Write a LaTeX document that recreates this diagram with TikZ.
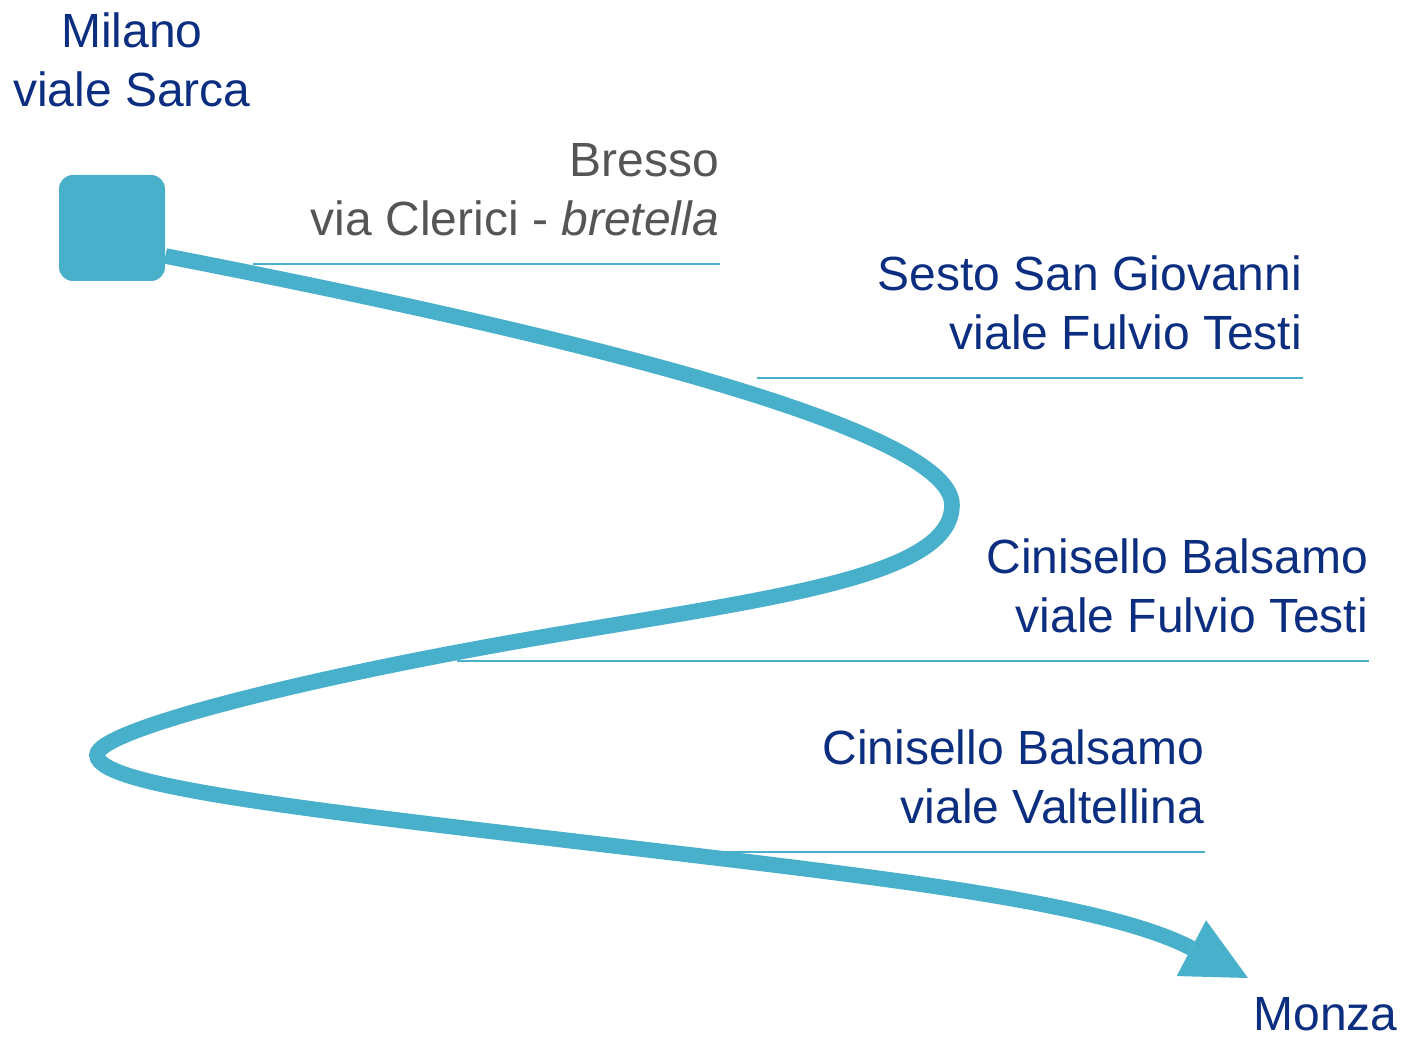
\documentclass[tikz,border=0pt]{standalone}
\usepackage{fontspec}
\setmainfont{Liberation Sans}
\usetikzlibrary{arrows.meta}
\definecolor{linea}{RGB}{73,176,203}
\definecolor{blu}{RGB}{12,46,128}
\definecolor{grigio}{RGB}{85,85,85}
\tikzset{>={Triangle[length=32pt,width=31.5pt,line width=0pt]}}

\begin{document}
\begin{tikzpicture}[x=0.5pt, y=-0.5pt,
    testo/.style={text=blu, font=\fontsize{24}{29.5}\selectfont, align=right, inner sep=0pt, anchor=south east},
    tratto/.style={linea, line width=1pt},
    percorso/.style={linea, line width=7.8pt}]
    \useasboundingbox (0,0) rectangle (1405,1037);
    \node[fill=linea, rounded corners=7pt, minimum size=53pt, inner sep=0pt] (sarca) at (112,228) {};
    \node[testo, align=center, anchor=south] (milano) at (132,107) {Milano\\viale Sarca};
    \node[testo, anchor=south east] (monza) at (1398,1031) {Monza};
    \coordinate (punta) at (1248,978);
    % fermate
    \draw[tratto] (253,264) -- (720,264) node[testo, text=grigio, yshift=13.5pt] (bresso) {Bresso\\via Clerici - \textit{bretella}};
    \draw[tratto] (757,378) -- (1303,378) node[testo, yshift=13.5pt] (sesto) {Sesto San Giovanni\\viale Fulvio Testi};
    \draw[tratto] (457,661) -- (1369,661) node[testo, yshift=13.5pt] (cinisello) {Cinisello Balsamo\\viale Fulvio Testi};
    \draw[tratto] (705,852) -- (1205,852) node[testo, yshift=13.5pt] (valtellina) {Cinisello Balsamo\\viale Valtellina};
    % tracciato
    \draw[percorso, ->] ([yshift=-14pt]sarca.east) .. controls (715,363) and (952,445) .. (952,505)
        .. controls (952,575) and (780,597) .. (560,634)
        .. controls (310,676) and (97,730) .. (97,755)
        .. controls (97,790) and (350,814) .. (750,862)
        .. controls (930,884) and (1115,908) .. (punta);
\end{tikzpicture}
\end{document}
